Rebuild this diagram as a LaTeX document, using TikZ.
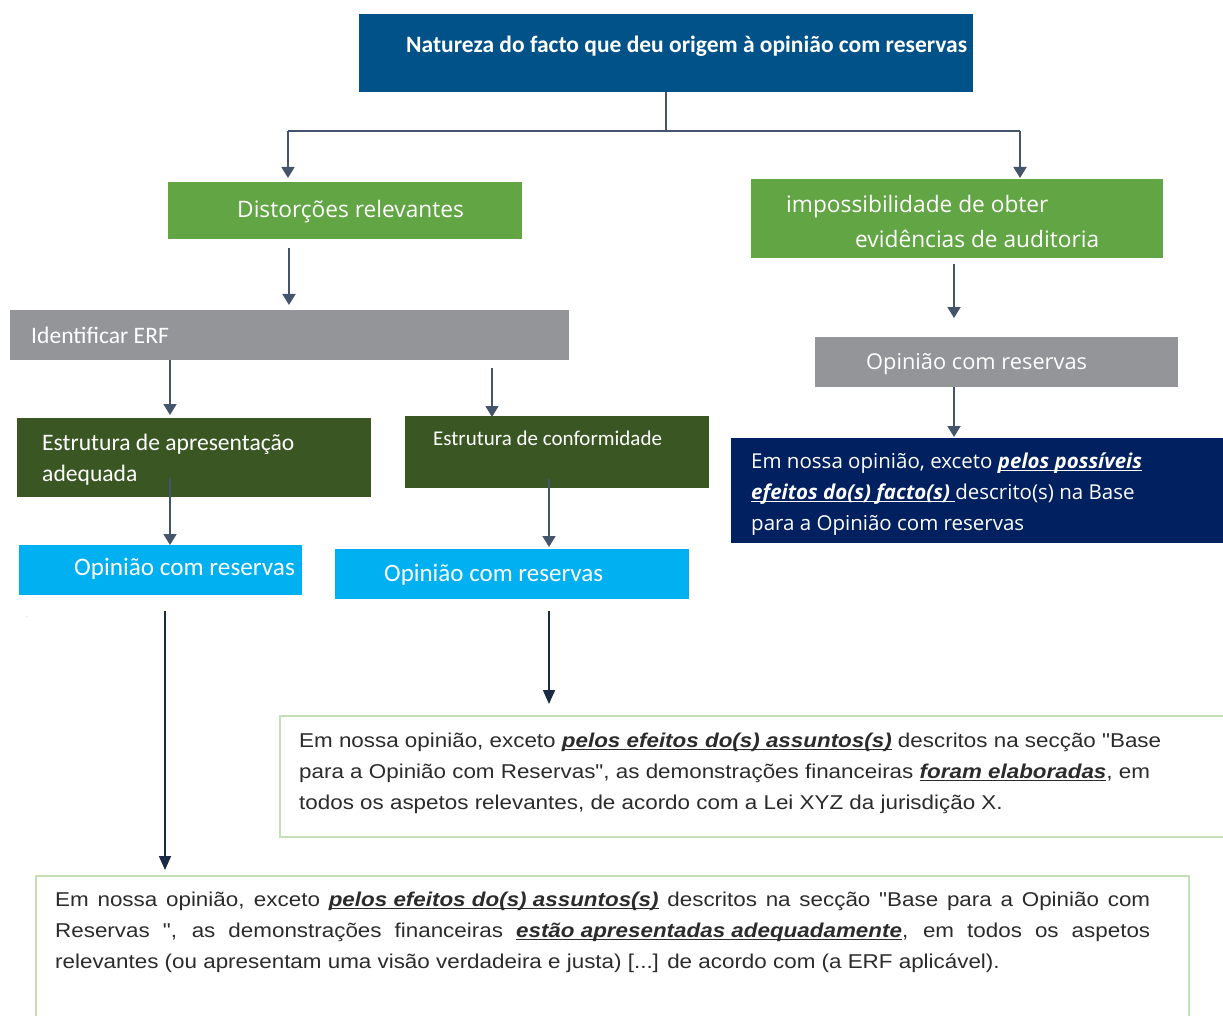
\documentclass[tikz,border=0pt]{standalone}
\usepackage{fontspec}
\setmainfont{Open Sans}
\newfontfamily\calfont{Carlito}
\newfontfamily\arialfont[FakeStretch=1.12]{Liberation Sans}
\usetikzlibrary{arrows.meta}

\definecolor{titleblue}{HTML}{02528A}
\definecolor{leafgreen}{HTML}{62A544}
\definecolor{erfgray}{HTML}{939598}
\definecolor{forest}{HTML}{3A5723}
\definecolor{skyblue}{HTML}{00B0F0}
\definecolor{deepnavy}{HTML}{002060}
\definecolor{arrowgray}{HTML}{44546A}
\definecolor{arrowdark}{HTML}{1B2B45}
\definecolor{palegreen}{HTML}{C5E0B4}
\definecolor{bodytext}{HTML}{2B2B2B}

% thick underline used for the emphasised phrases
\newcommand\ulpx[1]{\setbox0\hbox{#1}\rlap{\rule[-3pt]{\wd0}{1.4pt}}\box0\relax}
\newcommand\keyph[1]{\ulpx{\bfseries\itshape #1}}

\begin{document}
\begin{tikzpicture}[x=1pt,y=-1pt,
  box/.style={inner sep=0pt, outer sep=0pt, anchor=north west, draw=none},
  lbl/.style={inner sep=0pt, anchor=base west, text=white},
  para/.style={inner sep=0pt, anchor=base west, text=bodytext},
  conn/.style={draw=arrowgray, line width=1.8pt},
  arr/.style={conn, -{Triangle[width=13pt,length=11pt]}},
  longarr/.style={draw=arrowdark, line width=1.8pt, -{Triangle[width=12pt,length=14pt]}}]
\useasboundingbox (0,0) rectangle (1223,1016);

% ---- boxes ----
\node[box, fill=titleblue, minimum width=614pt, minimum height=78pt] (title) at (359,14) {};
\node[box, fill=leafgreen, minimum width=354pt, minimum height=57pt] (dist) at (168,182) {};
\node[box, fill=leafgreen, minimum width=412pt, minimum height=79pt] (imp) at (751,179) {};
\node[box, fill=erfgray, minimum width=559pt, minimum height=50pt] (erf) at (10,310) {};
\node[box, fill=erfgray, minimum width=363pt, minimum height=50pt] (opg) at (815,337) {};
\node[box, fill=forest, minimum width=354pt, minimum height=79pt] (apres) at (17,418) {};
\node[box, fill=forest, minimum width=304pt, minimum height=72pt] (conf) at (405,416) {};
\node[box, fill=skyblue, minimum width=283pt, minimum height=50pt] (opl) at (19,545) {};
\node[box, fill=skyblue, minimum width=354pt, minimum height=50pt] (opr) at (335,549) {};
\node[box, fill=deepnavy, minimum width=500pt, minimum height=105pt] (navy) at (731,438) {};
\node[box, draw=palegreen, line width=2pt, fill=white, minimum width=960pt, minimum height=121pt] (mid) at (280,716) {};
\node[box, draw=palegreen, line width=2pt, fill=white, minimum width=1153pt, minimum height=170pt] (bot) at (36,876) {};

% ---- labels ----
\node[lbl] (tTitle) at (406,53) {\calfont\bfseries\fontsize{23.5}{26}\selectfont Natureza do facto que deu origem à opinião com reservas};
\node[lbl] (tDist) at (237,218) {\fontsize{22.7}{26}\selectfont Distorções relevantes};
\node[lbl] (tImp1) at (786,213) {\fontsize{22.7}{26}\selectfont impossibilidade de obter};
\node[lbl] (tImp2) at (855,248) {\fontsize{22.7}{26}\selectfont evidências de auditoria};
\node[lbl] (tErf) at (31,343) {\calfont\fontsize{23.6}{26}\selectfont Identificar ERF};
\node[lbl] (tOpg) at (866,369) {\fontsize{21.8}{26}\selectfont Opinião com reservas};
\node[lbl] (tApres1) at (42,450) {\calfont\fontsize{23.6}{26}\selectfont Estrutura de apresentação};
\node[lbl] (tApres2) at (42,481) {\calfont\fontsize{23.6}{26}\selectfont adequada};
\node[lbl] (tConf) at (433,445) {\calfont\fontsize{21}{24}\selectfont Estrutura de conformidade};
\node[lbl] (tOpl) at (74,575) {\calfont\fontsize{25.2}{28}\selectfont Opinião com reservas};
\node[lbl] (tOpr) at (384,581) {\calfont\fontsize{25}{28}\selectfont Opinião com reservas};

\node[lbl] (tNavy1) at (751,468) {\fontsize{20.5}{24}\selectfont Em nossa opinião, exceto \keyph{pelos possíveis}};
\node[lbl] (tNavy2) at (751,499) {\fontsize{20.5}{24}\selectfont \keyph{efeitos do(s) facto(s)\ }descrito(s) na Base};
\node[lbl] (tNavy3) at (751,530) {\fontsize{20.5}{24}\selectfont para a Opinião com reservas};

\node[para] (tMid1) at (299,747) {\arialfont\fontsize{20}{24}\selectfont Em nossa opinião, exceto \keyph{pelos efeitos do(s) assuntos(s)} descritos na secção "Base};
\node[para] (tMid2) at (299,778) {\arialfont\fontsize{20}{24}\selectfont para a Opinião com Reservas", as demonstrações financeiras \keyph{foram elaboradas}, em};
\node[para] (tMid3) at (299,809) {\arialfont\fontsize{20}{24}\selectfont todos os aspetos relevantes, de acordo com a Lei XYZ da jurisdição X.};

\node[para] (tBot1) at (55,906) {\arialfont\fontsize{20}{24}\selectfont\hbox to 1095pt{Em nossa opinião, exceto \keyph{pelos efeitos do(s) assuntos(s)} descritos na secção "Base para a Opinião com}};
\node[para] (tBot2) at (55,937) {\arialfont\fontsize{20}{24}\selectfont\hbox to 1095pt{Reservas ", as demonstrações financeiras \keyph{estão apresentadas adequadamente}, em todos os aspetos}};
\node[para] (tBot3) at (55,968) {\arialfont\fontsize{20}{24}\selectfont relevantes (ou apresentam uma visão verdadeira e justa) [...] de acordo com (a ERF aplicável).};

\node[inner sep=0pt, text=erfgray] (dot) at (27,617) {\tiny .};

% ---- connectors ----
\coordinate (busL) at (288,131);
\coordinate (busR) at (1020,131);
\draw[conn] (title.south) -- (title.south |- busL);
\draw[conn] (busL) -- (busR);
\draw[arr, shorten >=4pt] (busL) -- (busL |- dist.north);
\draw[arr, shorten >=1pt] (busR) -- (busR |- imp.north);

\draw[arr, shorten <=9pt, shorten >=5pt] (dist.south -| 289,0) -- (erf.north -| 289,0);
\draw[arr, shorten >=3pt] (erf.south -| 170,0) -- (apres.north -| 170,0);
\draw[arr, shorten <=8pt, shorten >=-1pt] (erf.south -| 492,0) -- (conf.north -| 492,0);
\draw[arr, shorten <=-19pt] (apres.south -| 170,0) -- (opl.north -| 170,0);
\draw[arr, shorten <=-9pt, shorten >=2pt] (conf.south -| 549,0) -- (opr.north -| 549,0);
\draw[longarr, shorten <=16pt, shorten >=6pt] (opl.south -| 165,0) -- (bot.north -| 165,0);
\draw[longarr, shorten <=12pt, shorten >=12pt] (opr.south -| 549,0) -- (mid.north -| 549,0);
\draw[arr, shorten <=6pt, shorten >=19pt] (imp.south -| 954,0) -- (opg.north -| 954,0);
\draw[arr, shorten >=1pt] (opg.south -| 954,0) -- (navy.north -| 954,0);
\end{tikzpicture}
\end{document}
